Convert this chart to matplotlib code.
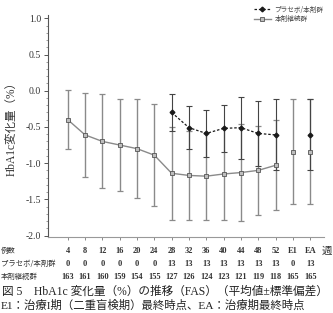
import matplotlib
matplotlib.use("Agg")
import matplotlib.pyplot as plt
import matplotlib.transforms as mtransforms
from matplotlib.lines import Line2D
from matplotlib.ticker import MultipleLocator
import numpy as np

# ---------------- data ----------------
weeks = ['4', '8', '12', '16', '20', '24', '28', '32', '36', '40', '44', '48', '52', 'E1', 'EA']
cont_mean = [-0.40, -0.61, -0.70, -0.75, -0.80, -0.89, -1.14, -1.17, -1.18, -1.15, -1.13, -1.10, -1.03, -0.84, -0.84]
cont_sd = [0.41, 0.58, 0.65, 0.64, 0.68, 0.70, 0.64, 0.61, 0.60, 0.64, 0.67, 0.61, 0.62, 0.72, 0.72]
plac_weeks = ['28', '32', '36', '40', '44', '48', '52', 'EA']
plac_mean = [-0.30, -0.51, -0.59, -0.52, -0.51, -0.59, -0.61, -0.61]
plac_sd = [0.25, 0.30, 0.33, 0.32, 0.43, 0.45, 0.49, 0.49]
n_plac = [0, 0, 0, 0, 0, 0, 13, 13, 13, 13, 13, 13, 13, 0, 13]
n_cont = [163, 161, 160, 159, 154, 155, 127, 126, 124, 123, 121, 119, 118, 165, 165]
label_plac = 'プラセボ/本剤群'
label_cont = '本剤継続群'
row_labels = ['例数', 'プラセボ/本剤群', '本剤継続群']
ylabel = 'HbA1c変化量（%）'
caption1 = '図 5　HbA1c 変化量（%）の推移（FAS）（平均値±標準偏差）'
caption2 = 'E1：治療I期（二重盲検期）最終時点、EA：治療期最終時点'
week_unit = '週'

W, H = 333, 313
fig = plt.figure(figsize=(W / 100, H / 100), dpi=100)
fig.patch.set_facecolor('white')

ax_l, ax_r, ax_t, ax_b = 48, 324, 15.4, 237
ax = fig.add_axes([ax_l / W, 1 - ax_b / H, (ax_r - ax_l) / W, (ax_b - ax_t) / H])

cjk = ['Noto Sans CJK JP', 'DejaVu Sans']
serif_cjk = ['Liberation Serif', 'Noto Sans CJK JP']

xpos = {w: i for i, w in enumerate(weeks)}
xc = np.arange(len(weeks))
xp = np.array([xpos[w] for w in plac_weeks])

grey = '#8a8a8a'
dark = '#1a1a1a'

# continuation group: error bars
ax.errorbar(xc, cont_mean, yerr=cont_sd, fmt='none', ecolor=grey, elinewidth=1.0,
            capsize=2.2, capthick=0.9, zorder=2)
# placebo group error bars
ax.errorbar(xp, plac_mean, yerr=plac_sd, fmt='none', ecolor='#444444', elinewidth=0.8,
            capsize=2.2, capthick=0.8, zorder=3)

# continuation line (connected 4..52)
ncon = 13
ax.plot(xc[:ncon], cont_mean[:ncon], '-', color=grey, lw=1.0, zorder=4)
ax.plot(xc, cont_mean, 's', ms=3.2, mfc='#bdbdbd', mec='#555555', mew=0.6, ls='none', zorder=5)

# placebo line (connected 28..52)
ax.plot(xp[:7], plac_mean[:7], '--', color=dark, lw=0.9, dashes=(2, 1.5), zorder=6)
ax.plot(xp, plac_mean, 'D', ms=2.4, color=dark, ls='none', zorder=7)

ax.set_xlim(-1.14, 14.8)
ax.set_ylim(-2.02, 1.04)
ax.yaxis.set_minor_locator(MultipleLocator(0.1))
ax.set_yticks([1.0, 0.5, 0.0, -0.5, -1.0, -1.5, -2.0])
ax.set_yticklabels(['1.0', '0.5', '0.0', '-0.5', '-1.0', '-1.5', '-2.0'])
ax.set_xticks(xc)
ax.set_xticklabels([])
for lab in ax.get_yticklabels():
    lab.set_fontfamily('Liberation Serif')
    lab.set_fontsize(7)
    lab.set_color('#333333')
ax.tick_params(axis='y', which='major', length=3, width=0.7, color='#555555', pad=2)
ax.tick_params(axis='y', which='minor', length=1.6, width=0.5, color='#777777')
ax.tick_params(axis='x', which='major', length=2, width=0.6, color='#777777')
for s in ['top', 'right']:
    ax.spines[s].set_visible(False)
ax.spines['left'].set_color('#555555')
ax.spines['left'].set_linewidth(0.8)
ax.spines['bottom'].set_color('#999999')
ax.spines['bottom'].set_linewidth(0.8)

fig.text(12 / W, 1 - 126 / H, ylabel, rotation=90, ha='center', va='center',
         fontsize=8.3, family=serif_cjk, color='#333333')

# legend
handles = [Line2D([0], [0], color=dark, lw=0.9, ls='--', dashes=(2, 1.5), marker='D', ms=2.4),
           Line2D([0], [0], color=grey, lw=1.0, marker='s', ms=3.2, mfc='#bdbdbd', mec='#555555', mew=0.6)]
leg = fig.legend(handles, [label_plac, label_cont], loc='upper left',
                 bbox_to_anchor=(249 / W, 1 - 1 / H), frameon=False,
                 prop={'family': cjk, 'size': 4.8}, handlelength=2.6,
                 handletextpad=0.5, labelspacing=0.25, borderpad=0.2)
for t in leg.get_texts():
    t.set_color('#444444')

# table below axis
trans = mtransforms.blended_transform_factory(ax.transData, fig.transFigure)
rows_y = [251, 264, 277]
for i, w in enumerate(weeks):
    ax.text(i, 1 - rows_y[0] / H, w, transform=trans, ha='center', va='center',
            fontsize=6, family='Liberation Serif', fontweight='bold', color='#333333')
    ax.text(i, 1 - rows_y[1] / H, str(n_plac[i]), transform=trans, ha='center', va='center',
            fontsize=6, family='Liberation Serif', fontweight='bold', color='#333333')
    ax.text(i, 1 - rows_y[2] / H, str(n_cont[i]), transform=trans, ha='center', va='center',
            fontsize=6, family='Liberation Serif', fontweight='bold', color='#333333')
ax.text(len(weeks) - 0.05, 1 - rows_y[0] / H, week_unit, transform=trans, ha='center', va='center',
        fontsize=7.5, family=cjk, color='#333333')

for lab, yy in zip(row_labels, rows_y):
    fig.text(1 / W, 1 - yy / H, lab, ha='left', va='center', fontsize=5.3,
             family=cjk, color='#333333')

fig.text(2 / W, 1 - 292 / H, caption1, ha='left', va='center', fontsize=8.4,
         family=serif_cjk, color='#222222')
fig.text(1 / W, 1 - 305.5 / H, caption2, ha='left', va='center', fontsize=8.2,
         family=serif_cjk, color='#222222')

fig.savefig('out.png', dpi=100, facecolor='white')
